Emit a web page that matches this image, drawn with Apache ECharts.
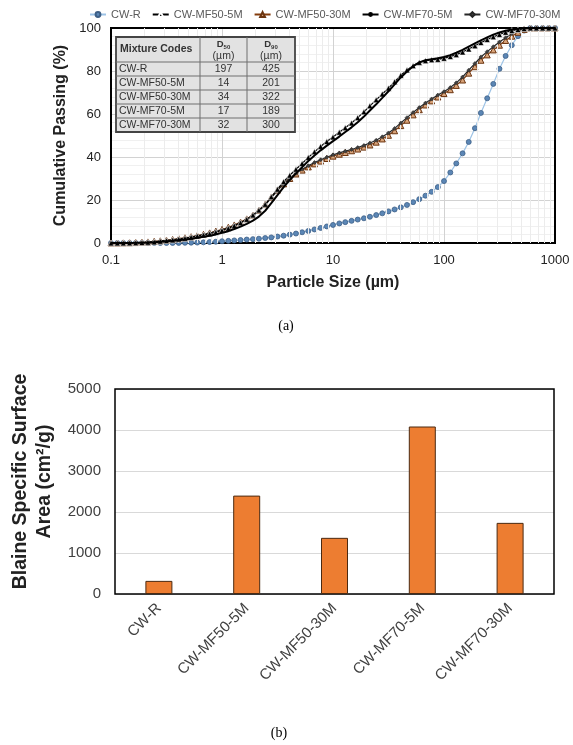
<!DOCTYPE html>
<html>
<head>
<meta charset="utf-8">
<script src="https://cdn.jsdelivr.net/npm/echarts@6/dist/echarts.min.js"></script>
<style>
  html, body { margin: 0; padding: 0; background: #fff; }
  #main { width: 573px; height: 745px; }
</style>
</head>
<body>
<div id="main"></div>
<script>
// particle size bins (µm)
const sizes = [
  0.1, 0.114, 0.129, 0.147, 0.167, 0.190, 0.215, 0.245, 0.278, 0.316, 0.359, 0.408, 0.464, 0.527, 0.599, 0.681, 0.774, 0.880,
  1.00, 1.14, 1.29, 1.47, 1.67, 1.90, 2.15, 2.45, 2.78, 3.16, 3.59, 4.08, 4.64, 5.27, 5.99, 6.81, 7.74, 8.80,
  10.0, 11.4, 12.9, 14.7, 16.7, 19.0, 21.5, 24.5, 27.8, 31.6, 35.9, 40.8, 46.4, 52.7, 59.9, 68.1, 77.4, 88.0,
  100, 114, 129, 147, 167, 190, 215, 245, 278, 316, 359, 408, 464, 527, 599, 681, 774, 880,
  1000
]

// cumulative passing (%)
const cwR = [
  0, 0, 0, 0, 0, 0, 0, 0, 0, 0, 0.02, 0.05, 0.1, 0.15, 0.2, 0.3, 0.45, 0.6,
  0.8, 1.0, 1.2, 1.4, 1.6, 1.8, 2.0, 2.3, 2.6, 3.0, 3.4, 3.9, 4.4, 5.0, 5.6, 6.3, 7.0, 7.7,
  8.4, 9.1, 9.7, 10.3, 10.9, 11.5, 12.2, 13.0, 13.8, 14.7, 15.6, 16.6, 17.7, 19.0, 20.4, 22.0, 23.8, 26.0,
  28.8, 32.8, 37.0, 41.7, 47.0, 53.4, 60.5, 67.3, 74.0, 81.0, 87.0, 92.0, 96.2, 98.8, 100, 100, 100, 100,
  100
]
const mf50_5 = [
  0, 0, 0, 0.05, 0.1, 0.2, 0.35, 0.5, 0.8, 1.1, 1.4, 1.8, 2.2, 2.7, 3.2, 3.7, 4.3, 5.0,
  5.8, 6.8, 8.0, 9.4, 11.0, 13.0, 15.3, 18.0, 21.5, 25.0, 28.5, 31.5, 34.3, 37.0, 39.8, 42.4, 44.9, 47.2,
  49.3, 51.5, 53.6, 55.8, 58.3, 61.0, 63.8, 66.6, 69.3, 72.0, 75.0, 78.0, 80.5, 82.5, 84.0, 84.8, 85.2, 85.4,
  85.9, 86.7, 87.6, 88.8, 90.2, 91.7, 93.2, 94.6, 95.9, 97.0, 98.0, 98.8, 99.3, 99.7, 100, 100, 100, 100,
  100
]
const mf50_30 = [
  0, 0, 0.05, 0.1, 0.2, 0.35, 0.5, 0.75, 1.0, 1.3, 1.6, 2.0, 2.4, 2.9, 3.4, 4.0, 4.7, 5.5,
  6.3, 7.3, 8.4, 9.7, 11.2, 13.0, 15.2, 18.0, 21.3, 24.6, 27.5, 30.0, 32.1, 33.9, 35.4, 36.8, 38.1, 39.3,
  40.4, 41.3, 42.1, 42.9, 43.7, 44.6, 45.6, 46.9, 48.4, 50.1, 52.2, 54.6, 57.1, 59.6, 62.0, 64.2, 66.1, 67.9,
  69.5, 71.3, 73.3, 75.8, 79.0, 82.0, 85.0, 87.5, 89.8, 92.0, 94.2, 96.2, 98.0, 99.3, 100, 100, 100, 100,
  100
]
const mf70_5 = [
  0, 0, 0, 0.03, 0.07, 0.15, 0.25, 0.4, 0.6, 0.8, 1.0, 1.3, 1.6, 2.0, 2.4, 2.9, 3.4, 4.0,
  4.7, 5.5, 6.5, 7.6, 8.9, 10.4, 12.3, 15.0, 18.5, 22.3, 26.0, 29.3, 32.4, 35.3, 38.1, 40.7, 43.1, 45.3,
  47.4, 49.5, 51.6, 53.8, 56.2, 58.8, 61.6, 64.5, 67.5, 70.6, 73.8, 77.0, 79.8, 82.2, 84.0, 85.0, 85.5, 85.9,
  86.5, 87.4, 88.5, 89.8, 91.3, 92.8, 94.2, 95.6, 96.9, 97.9, 98.7, 99.3, 99.7, 100, 100, 100, 100, 100,
  100
]
const mf70_30 = [
  0, 0, 0, 0.05, 0.15, 0.3, 0.45, 0.7, 0.9, 1.2, 1.5, 1.9, 2.3, 2.8, 3.3, 3.9, 4.6, 5.3,
  6.1, 7.0, 8.1, 9.4, 10.9, 12.7, 14.9, 17.6, 21.0, 24.4, 27.5, 30.1, 32.4, 34.3, 35.9, 37.4, 38.7, 39.9,
  41.0, 41.9, 42.7, 43.5, 44.4, 45.4, 46.5, 47.8, 49.4, 51.2, 53.3, 55.8, 58.3, 60.7, 63.0, 65.1, 67.0, 68.8,
  70.4, 72.3, 74.5, 77.2, 80.4, 83.5, 86.5, 89.0, 91.3, 93.5, 95.5, 97.3, 98.7, 99.6, 100, 100, 100, 100,
  100
]

// table + bar chart
const mixCodes = ['CW-R', 'CW-MF50-5M', 'CW-MF50-30M', 'CW-MF70-5M', 'CW-MF70-30M']
const d50 = [197, 14, 34, 17, 32]
const d90 = [425, 201, 322, 189, 300]
const blaine = [320, 2400, 1370, 4085, 1735]

const font = 'Liberation Sans, Arial, sans-serif'
const pairs = (arr) => sizes.map((s, i) => [s, arr[i]])
const plain = (v) => String(v)

// light grid lines at 2..9 of every decade
const minorX = []
for (const dec of [0.1, 1, 10, 100]) {
  for (let k = 2; k <= 9; k++) minorX.push({ xAxis: +(dec * k).toPrecision(3) })
}

// D50/D90 table drawn over the plot
function buildTable () {
  const colX = [116, 200, 247, 295]
  const rowY = [37, 62, 76, 90, 104, 118, 132]
  const txt = '#333'
  const els = []
  els.push({
    type: 'rect',
    shape: { x: colX[0], y: rowY[0], width: colX[3] - colX[0], height: rowY[6] - rowY[0] },
    style: { fill: '#e2e2e2', stroke: '#444', lineWidth: 1.8 },
    z: 100
  })
  for (let r = 1; r < rowY.length - 1; r++) {
    els.push({ type: 'line', shape: { x1: colX[0], y1: rowY[r], x2: colX[3], y2: rowY[r] }, style: { stroke: '#6f6f6f', lineWidth: 1 }, z: 101 })
  }
  for (let c = 1; c < colX.length - 1; c++) {
    els.push({ type: 'line', shape: { x1: colX[c], y1: rowY[0], x2: colX[c], y2: rowY[6] }, style: { stroke: '#6f6f6f', lineWidth: 1 }, z: 101 })
  }
  els.push({
    type: 'text', x: colX[0] + 4, y: (rowY[0] + rowY[1]) / 2, z: 102,
    style: { text: 'Mixture Codes', font: 'bold 10.5px ' + font, fill: txt, verticalAlign: 'middle' }
  })
  const heads = [['50', (colX[1] + colX[2]) / 2], ['90', (colX[2] + colX[3]) / 2]]
  for (const [sub, cx] of heads) {
    els.push({
      type: 'text', x: cx, y: (rowY[0] + rowY[1]) / 2 + 1, z: 102,
      style: {
        text: '{d|D}{s|' + sub + '}\n{u|(µm)}',
        align: 'center', verticalAlign: 'middle', fill: txt,
        rich: {
          d: { fontFamily: font, fontSize: 9.5, fontWeight: 'bold', lineHeight: 11 },
          s: { fontFamily: font, fontSize: 6, fontWeight: 'bold', lineHeight: 11, verticalAlign: 'bottom' },
          u: { fontFamily: font, fontSize: 10.5, lineHeight: 12 }
        }
      }
    })
  }
  mixCodes.forEach((code, i) => {
    const cy = (rowY[i + 1] + rowY[i + 2]) / 2 + 0.5
    els.push({ type: 'text', x: colX[0] + 3, y: cy, z: 102, style: { text: code, font: '10.5px ' + font, fill: txt, verticalAlign: 'middle' } })
    els.push({ type: 'text', x: (colX[1] + colX[2]) / 2, y: cy, z: 102, style: { text: String(d50[i]), font: '10.5px ' + font, fill: txt, align: 'center', verticalAlign: 'middle' } })
    els.push({ type: 'text', x: (colX[2] + colX[3]) / 2, y: cy, z: 102, style: { text: String(d90[i]), font: '10.5px ' + font, fill: txt, align: 'center', verticalAlign: 'middle' } })
  })
  return els
}

const chart = echarts.init(document.getElementById('main'))
const option = {
  animation: false,
  backgroundColor: '#fff',
  textStyle: { fontFamily: font },
  legend: {
    top: 4,
    left: 84,
    itemWidth: 16,
    itemHeight: 6,
    itemGap: 11,
    textStyle: { fontSize: 11, color: '#595959', fontFamily: font },
    data: mixCodes
  },
  grid: [
    { left: 111, top: 28, width: 444, height: 215, show: true, borderColor: '#000', borderWidth: 2, z: 3 },
    { left: 115, top: 389, width: 439, height: 205, show: true, borderColor: '#000', borderWidth: 1.5, z: 3 }
  ],
  xAxis: [
    {
      type: 'log',
      gridIndex: 0,
      logBase: 10,
      min: 0.1,
      max: 1000,
      splitNumber: 4,
      axisLine: { show: false },
      axisTick: { show: false },
      axisLabel: { fontSize: 13, color: '#222', margin: 11, formatter: plain },
      splitLine: { show: true, lineStyle: { color: '#d2d2d2', width: 1 } },
      name: 'Particle Size (µm)',
      nameLocation: 'middle',
      nameGap: 32,
      nameTextStyle: { fontSize: 16, fontWeight: 'bold', color: '#222' }
    },
    {
      type: 'category',
      gridIndex: 1,
      data: mixCodes,
      axisLine: { show: false },
      axisTick: { show: false },
      axisLabel: { interval: 0, rotate: 45, fontSize: 15, color: '#404040', margin: 12 },
      splitLine: { show: false }
    }
  ],
  yAxis: [
    {
      type: 'value',
      gridIndex: 0,
      min: 0,
      max: 100,
      interval: 20,
      axisLine: { show: false },
      axisTick: { show: false },
      axisLabel: { fontSize: 13, color: '#222', margin: 10 },
      splitLine: { show: true, lineStyle: { color: '#d2d2d2', width: 1 } },
      minorTick: { show: false, splitNumber: 5 },
      minorSplitLine: { show: true, lineStyle: { color: '#f0f0f0', width: 1 } },
      name: 'Cumulative Passing (%)',
      nameLocation: 'middle',
      nameGap: 29,
      nameTextStyle: { fontSize: 16, fontWeight: 'bold', color: '#222' }
    },
    {
      type: 'value',
      gridIndex: 1,
      min: 0,
      max: 5000,
      interval: 1000,
      axisLine: { show: false },
      axisTick: { show: false },
      axisLabel: { fontSize: 15, color: '#404040', margin: 14, formatter: plain },
      splitLine: { show: true, lineStyle: { color: '#d9d9d9', width: 1 } },
      name: 'Blaine Specific Surface\nArea (cm²/g)',
      nameLocation: 'middle',
      nameGap: 58,
      nameTextStyle: { fontSize: 19.5, fontWeight: 'bold', color: '#222', lineHeight: 24, padding: [0, 0, 0, 20] }
    }
  ],
  graphic: buildTable().concat([
    { type: 'text', x: 286, y: 326, style: { text: '(a)', font: '14px Liberation Serif, DejaVu Serif, serif', fill: '#000', align: 'center', verticalAlign: 'middle' } },
    { type: 'text', x: 279, y: 733, style: { text: '(b)', font: '14px Liberation Serif, DejaVu Serif, serif', fill: '#000', align: 'center', verticalAlign: 'middle' } }
  ]),
  series: [
    {
      name: 'minor grid',
      type: 'line',
      xAxisIndex: 0,
      yAxisIndex: 0,
      data: [],
      silent: true,
      z: 0,
      markLine: {
        silent: true,
        symbol: 'none',
        label: { show: false },
        lineStyle: { color: '#ececec', width: 1, type: 'solid' },
        data: minorX
      }
    },
    {
      name: 'CW-R',
      type: 'line',
      xAxisIndex: 0,
      yAxisIndex: 0,
      data: pairs(cwR),
      symbol: 'circle',
      symbolSize: 5,
      showAllSymbol: true,
      lineStyle: { color: '#9dc3e6', width: 1.2 },
      itemStyle: { color: '#5b86b5', borderColor: '#3d5f86', borderWidth: 0.8 },
      z: 3
    },
    {
      name: 'CW-MF50-30M',
      type: 'line',
      xAxisIndex: 0,
      yAxisIndex: 0,
      data: pairs(mf50_30),
      symbol: 'triangle',
      symbolSize: 6,
      showAllSymbol: true,
      lineStyle: { color: '#843c0c', width: 1.2 },
      itemStyle: { color: '#d9a47a', borderColor: '#6b3410', borderWidth: 1 },
      z: 4
    },
    {
      name: 'CW-MF70-30M',
      type: 'line',
      xAxisIndex: 0,
      yAxisIndex: 0,
      data: pairs(mf70_30),
      symbol: 'diamond',
      symbolSize: 4,
      showAllSymbol: true,
      lineStyle: { color: '#262626', width: 1.2 },
      itemStyle: { color: '#404040', borderColor: '#262626', borderWidth: 0.5 },
      z: 5
    },
    {
      name: 'CW-MF50-5M',
      type: 'line',
      xAxisIndex: 0,
      yAxisIndex: 0,
      data: pairs(mf50_5),
      symbol: 'triangle',
      symbolSize: 6,
      showAllSymbol: true,
      lineStyle: { color: '#000', width: 1.2 },
      itemStyle: { color: '#000', borderColor: '#fff', borderWidth: 0.6 },
      z: 6
    },
    {
      name: 'CW-MF70-5M',
      type: 'line',
      xAxisIndex: 0,
      yAxisIndex: 0,
      data: pairs(mf70_5),
      symbol: 'none',
      lineStyle: { color: '#000', width: 2 },
      itemStyle: { color: '#000' },
      z: 7
    },
    {
      name: 'Blaine',
      type: 'bar',
      xAxisIndex: 1,
      yAxisIndex: 1,
      data: blaine,
      barWidth: 27,
      itemStyle: { color: '#ed7d31', borderColor: '#4a2a12', borderWidth: 1 },
      z: 4
    }
  ]
}
chart.setOption(option)
</script>
</body>
</html>
